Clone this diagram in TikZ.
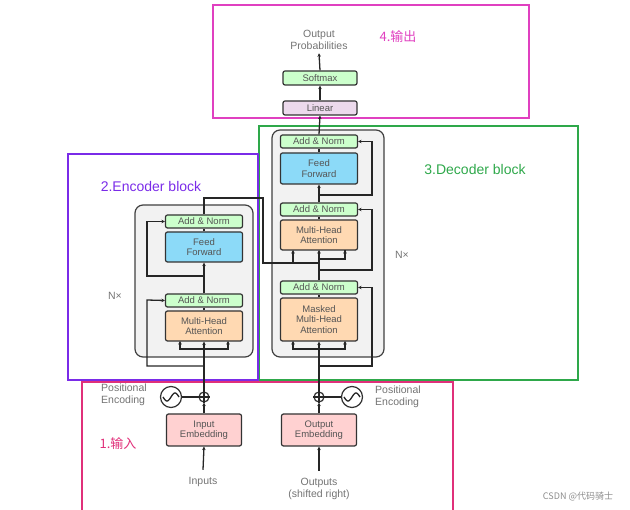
\documentclass[tikz,border=0pt]{standalone}
\usepackage{fontspec}
\setmainfont{Liberation Sans}
\newfontfamily\cjk{Noto Sans CJK SC}
\usetikzlibrary{arrows.meta}
\definecolor{txtgray}{HTML}{555555}
\definecolor{annpink}{HTML}{E040C0}
\definecolor{annred}{HTML}{E0307A}
\definecolor{annpurple}{HTML}{7A2BE8}
\definecolor{anngreen}{HTML}{2EA84A}
\tikzset{
  blk/.style={draw=black!80, line width=1.2pt, rounded corners=2pt, text=txtgray,
    font=\fontsize{9.5}{10.5}\selectfont, align=center, inner sep=0pt},
  addnorm/.style={blk, fill=green!20},
  ffbox/.style={blk, fill=cyan!45},
  attbox/.style={blk, fill=orange!30},
  embbox/.style={blk, fill=red!18},
  linbox/.style={blk, fill=violet!15},
  wire/.style={line width=1.3pt, black!85},
  arr/.style={wire, -{Stealth[length=3.5pt,width=3.5pt]}},
  lbl/.style={text=black!55, font=\fontsize{10.5}{12}\selectfont, align=center},
  ann/.style={line width=1.6pt},
}
\begin{document}
\begin{tikzpicture}[x=1pt,y=-1pt]
  \useasboundingbox (0,0) rectangle (630,510);
  % annotation frames
  \draw[ann, annpink] (213,5) rectangle (529,118);
  \draw[ann, anngreen] (259,126) rectangle (578,380);
  \draw[ann, annpurple] (68,154) rectangle (258,380);
  \draw[ann, annred] (82,382) rectangle (453,512);
  \node[annpink, font=\cjk\fontsize{13}{14}\selectfont] (tout) at (398,37) {4.输出};
  \node[anngreen, font=\fontsize{14}{15}\selectfont] (tdec) at (475,170) {3.Decoder block};
  \node[annpurple, font=\fontsize{14}{15}\selectfont] (tenc) at (151,186) {2.Encoder block};
  \node[annred, font=\cjk\fontsize{13}{14}\selectfont] (tin) at (118,444) {1.输入};
  % gray stacks
  \draw[fill=black!5, draw=black!75, line width=1.2pt, rounded corners=8pt] (135,205) rectangle (253,357);
  \draw[fill=black!5, draw=black!75, line width=1.2pt, rounded corners=8pt] (272,130) rectangle (384,357);
  \node[lbl] (nxl) at (115,296) {N×};
  \node[lbl] (nxr) at (402,255) {N×};
  % encoder
  \node[addnorm, minimum width=77pt, minimum height=13pt] (ean2) at (204,221.5) {Add \& Norm};
  \node[ffbox, minimum width=77pt, minimum height=30pt] (eff) at (204,247) {Feed\\Forward};
  \node[addnorm, minimum width=77pt, minimum height=13pt] (ean1) at (204,300.5) {Add \& Norm};
  \node[attbox, minimum width=77pt, minimum height=30pt] (emha) at (204,326) {Multi-Head\\Attention};
  % decoder
  \node[addnorm, minimum width=77pt, minimum height=13pt] (dan3) at (319,141.5) {Add \& Norm};
  \node[ffbox, minimum width=77pt, minimum height=31pt] (dff) at (319,168.5) {Feed\\Forward};
  \node[addnorm, minimum width=77pt, minimum height=13pt] (dan2) at (319,209.5) {Add \& Norm};
  \node[attbox, minimum width=77pt, minimum height=30pt] (dmha) at (319,235) {Multi-Head\\Attention};
  \node[addnorm, minimum width=77pt, minimum height=13pt] (dan1) at (319,287.5) {Add \& Norm};
  \node[attbox, minimum width=77pt, minimum height=43pt] (dmask) at (319,319.5) {Masked\\Multi-Head\\Attention};
  % head
  \node[linbox, minimum width=74pt, minimum height=14pt] (lin) at (320,108) {Linear};
  \node[addnorm, minimum width=74pt, minimum height=14pt] (soft) at (320,78) {Softmax};
  \node[lbl] (prob) at (319,40) {Output\\Probabilities};
  % embeddings and inputs
  \node[embbox, minimum width=75pt, minimum height=32pt] (iemb) at (204,430) {Input\\Embedding};
  \node[embbox, minimum width=75pt, minimum height=32pt] (oemb) at (319,430) {Output\\Embedding};
  \node[lbl] (inp) at (203,482) {Inputs};
  \node[lbl] (outp) at (319,489) {Outputs\\(shifted right)};
  \node[draw=black!80, line width=1.2pt, circle, minimum size=10pt, inner sep=0pt] (pl) at (204,397) {};
  \node[draw=black!80, line width=1.2pt, circle, minimum size=10pt, inner sep=0pt] (pr) at (319,397) {};
  \draw[wire] (pl.north) -- (pl.south) (pl.west) -- (pl.east);
  \draw[wire] (pr.north) -- (pr.south) (pr.west) -- (pr.east);
  \node[draw=black!80, line width=1.2pt, circle, minimum size=21pt, inner sep=0pt] (sl) at (171,397) {};
  \node[draw=black!80, line width=1.2pt, circle, minimum size=21pt, inner sep=0pt] (sr) at (352,397) {};
  \draw[wire, domain=-8:8, samples=30] plot ({171+\x}, {397-4*sin(\x*22.5)});
  \draw[wire, domain=-8:8, samples=30] plot ({352+\x}, {397-4*sin(\x*22.5)});
  \draw[wire] (sl) -- (pl);
  \draw[wire] (sr) -- (pr);
  \node[lbl, align=left] (pel) at (124,395) {Positional\\Encoding};
  \node[lbl, align=left] (per) at (398,397) {Positional\\Encoding};
  % input flow
  \draw[arr] (inp.north) ++(0,-4) -- (iemb.south);
  \draw[arr] (outp.north) ++(0,-4) -- (oemb.south);
  \draw[arr] (iemb.north) -- (pl.south);
  \draw[arr] (oemb.north) -- (pr.south);
  % encoder wiring
  \draw[wire] (pl.north) -- (204,349);
  \draw[arr] (204,349) -- (emha.south);
  \draw[arr] (204,349) -| (180,341);
  \draw[arr] (204,349) -| (228,341);
  \draw[arr] (204,366) -| (147,300) -- (ean1.west);
  \draw[wire] (emha.north) -- (ean1.south);
  \draw[arr] (ean1.north) -- (eff.south);
  \draw[arr] (204,276) -| (147,221.5) -- (ean2.west);
  \draw[wire] (eff.north) -- (ean2.south);
  \draw[wire] (ean2.north) -- (204,198) -| (263,263) -- (293,263);
  \draw[arr] (293,263) -- (293,250);
  \draw[arr] (293,263) -| (319,250);
  % decoder wiring
  \draw[wire] (pr.north) -- (319,349);
  \draw[arr] (319,349) -- (dmask.south);
  \draw[arr] (319,349) -| (293,341);
  \draw[arr] (319,349) -| (345,341);
  \draw[arr] (319,366) -| (372,287.5) -- (dan1.east);
  \draw[wire] (dmask.north) -- (dan1.south);
  \draw[wire] (dan1.north) -- (319,259) -| (345,250);
  \draw[arr] (345,259) -- (345,250);
  \draw[arr] (319,270) -| (372,209.5) -- (dan2.east);
  \draw[wire] (dmha.north) -- (dan2.south);
  \draw[arr] (dan2.north) -- (dff.south);
  \draw[arr] (319,195) -| (372,141.5) -- (dan3.east);
  \draw[wire] (dff.north) -- (dan3.south);
  \draw[arr] (dan3.north) -- (lin.south);
  \draw[arr] (lin.north) -- (soft.south);
  \draw[arr] (soft.north) -- (prob.south);
  \node[text=black!45, font=\cjk\fontsize{9}{10}\selectfont] (mark) at (578,497) {CSDN @代码骑士};
\end{tikzpicture}
\end{document}
